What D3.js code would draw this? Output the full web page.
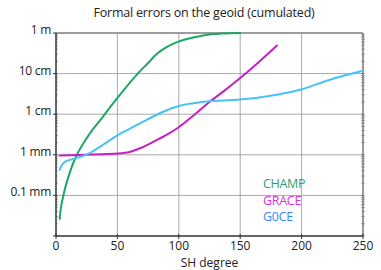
<!DOCTYPE html>
<html>
<head>
<meta charset="utf-8">
<script src="https://cdn.jsdelivr.net/npm/d3@7"></script>
<style>
  body { margin: 0; background: #fff; }
  text { font-family: "Open Sans", "DejaVu Sans", sans-serif; }
</style>
</head>
<body>
<div id="chart"></div>
<script>
const width = 381, height = 270;
const margin = {top: 33, right: 18, bottom: 34, left: 56};

// SH degree vs cumulated geoid error, log10 of metres
const champ_deg = [3, 4, 6, 10, 17, 27, 38, 50, 66, 75, 82, 90, 98, 105, 120, 135, 150];
const champ_log = [-4.58, -4.3, -4.0, -3.55, -3.0, -2.5, -2.07, -1.6, -1.02, -0.74, -0.52, -0.35, -0.23, -0.16, -0.06, -0.015, 0];

const grace_deg = [3, 30, 50, 60, 70, 80, 90, 100, 112, 125, 138, 150, 165, 180];
const grace_log = [-3.02, -2.99, -2.97, -2.93, -2.82, -2.67, -2.51, -2.32, -2.03, -1.7, -1.4, -1.11, -0.72, -0.31];

const goce_deg = [3, 5, 8, 17, 28, 40, 50, 60, 70, 85, 100, 112, 125, 150, 180, 201, 223, 250];
const goce_log = [-3.37, -3.24, -3.16, -3.08, -2.95, -2.72, -2.52, -2.36, -2.2, -1.97, -1.8, -1.73, -1.68, -1.64, -1.52, -1.38, -1.15, -0.93];

const series_names = ['CHAMP', 'GRACE', 'G0CE'];
const series_colors = ['#1aa862', '#c41fc4', '#45c3f5'];
const legend_colors = ['#2f9f6e', '#d633d6', '#3d86f0'];

const x_ticks = [0, 50, 100, 150, 200, 250];
const y_ticks = [1, 0.1, 0.01, 0.001, 0.0001];
const y_tick_labels = ['1 m', '10 cm', '1 cm', '1 mm', '0.1 mm'];

const svg = d3.select('#chart').append('svg')
  .attr('width', width).attr('height', height);

const x = d3.scaleLinear().domain([0, 250]).range([margin.left, width - margin.right]);
const y = d3.scaleLog().domain([1e-5, 1]).range([height - margin.bottom, margin.top]);

// minor log ticks
const minor = [];
for (let e = -5; e < 0; e++) for (let k = 1; k <= 9; k++) minor.push(k * Math.pow(10, e));

// grid
const grid = svg.append('g').attr('stroke', '#a8a8a8').attr('stroke-width', 1);
x_ticks.slice(1, -1).forEach(t => {
  grid.append('line').attr('x1', x(t)).attr('x2', x(t))
    .attr('y1', y(1e-5)).attr('y2', y(1));
});
y_ticks.forEach(t => {
  grid.append('line').attr('x1', x(0)).attr('x2', x(250))
    .attr('y1', y(t)).attr('y2', y(t));
});

// minor ticks on left and right
const mt = svg.append('g').attr('stroke', '#777').attr('stroke-width', 0.6);
minor.forEach(v => {
  mt.append('line').attr('x1', x(0)).attr('x2', x(0) + 2).attr('y1', y(v)).attr('y2', y(v));
  mt.append('line').attr('x1', x(250) - 2).attr('x2', x(250) + 2).attr('y1', y(v)).attr('y2', y(v));
});

// frame
const frame = svg.append('g').attr('fill', 'none');
frame.append('line').attr('x1', x(0)).attr('x2', x(250)).attr('y1', y(1)).attr('y2', y(1))
  .attr('stroke', '#8a8a8a').attr('stroke-width', 1.5);
frame.append('line').attr('x1', x(250)).attr('x2', x(250)).attr('y1', y(1)).attr('y2', y(1e-5))
  .attr('stroke', '#777').attr('stroke-width', 1.5);
frame.append('line').attr('x1', x(0)).attr('x2', x(0)).attr('y1', y(1)).attr('y2', y(1e-5))
  .attr('stroke', '#333').attr('stroke-width', 1.5);
frame.append('line').attr('x1', x(0)).attr('x2', x(250)).attr('y1', y(1e-5)).attr('y2', y(1e-5))
  .attr('stroke', '#333').attr('stroke-width', 1.5);

// axis ticks and labels
const xa = svg.append('g');
x_ticks.forEach(t => {
  xa.append('line').attr('x1', x(t)).attr('x2', x(t))
    .attr('y1', y(1e-5) - 2).attr('y2', y(1e-5) + 3).attr('stroke', '#333');
  xa.append('text').attr('x', x(t)).attr('y', y(1e-5) + 14)
    .attr('text-anchor', 'middle').attr('font-size', 12).attr('fill', '#222').text(t);
});
svg.append('text').attr('x', (x(0) + x(250)) / 2).attr('y', 267)
  .attr('text-anchor', 'middle').attr('font-size', 12).attr('fill', '#222').text('SH degree');

const ya = svg.append('g');
y_ticks.forEach((t, i) => {
  ya.append('line').attr('x1', x(0) - 3).attr('x2', x(0)).attr('y1', y(t)).attr('y2', y(t)).attr('stroke', '#333');
  ya.append('text').attr('x', x(0) - 5).attr('y', y(t) + 1)
    .attr('text-anchor', 'end').attr('font-size', 12).attr('fill', '#222')
    .attr('letter-spacing', -0.3).text(y_tick_labels[i]);
});
ya.append('line').attr('x1', x(0) - 3).attr('x2', x(0)).attr('y1', y(1e-5)).attr('y2', y(1e-5)).attr('stroke', '#333');

// title
svg.append('text').attr('x', 204).attr('y', 17).attr('text-anchor', 'middle')
  .attr('font-size', 12.5).attr('fill', '#222').attr('letter-spacing', -0.2)
  .text('Formal errors on the geoid (cumulated)');

// curves
const line = d3.line()
  .x(d => x(d[0]))
  .y(d => y(Math.pow(10, d[1])))
  .curve(d3.curveCatmullRom.alpha(0.5));

const series = [
  d3.zip(champ_deg, champ_log),
  d3.zip(grace_deg, grace_log),
  d3.zip(goce_deg, goce_log),
];

svg.append('g').selectAll('path').data(series).join('path')
  .attr('d', line)
  .attr('fill', 'none')
  .attr('stroke', (d, i) => series_colors[i])
  .attr('stroke-width', 2)
  .attr('stroke-linecap', 'round');

// legend
svg.append('g').selectAll('text').data(series_names).join('text')
  .attr('x', 263).attr('y', (d, i) => 188 + i * 16.5)
  .attr('font-size', 12.5).attr('fill', (d, i) => legend_colors[i])
  .attr('letter-spacing', -0.3)
  .text(d => d);
</script>
</body>
</html>
